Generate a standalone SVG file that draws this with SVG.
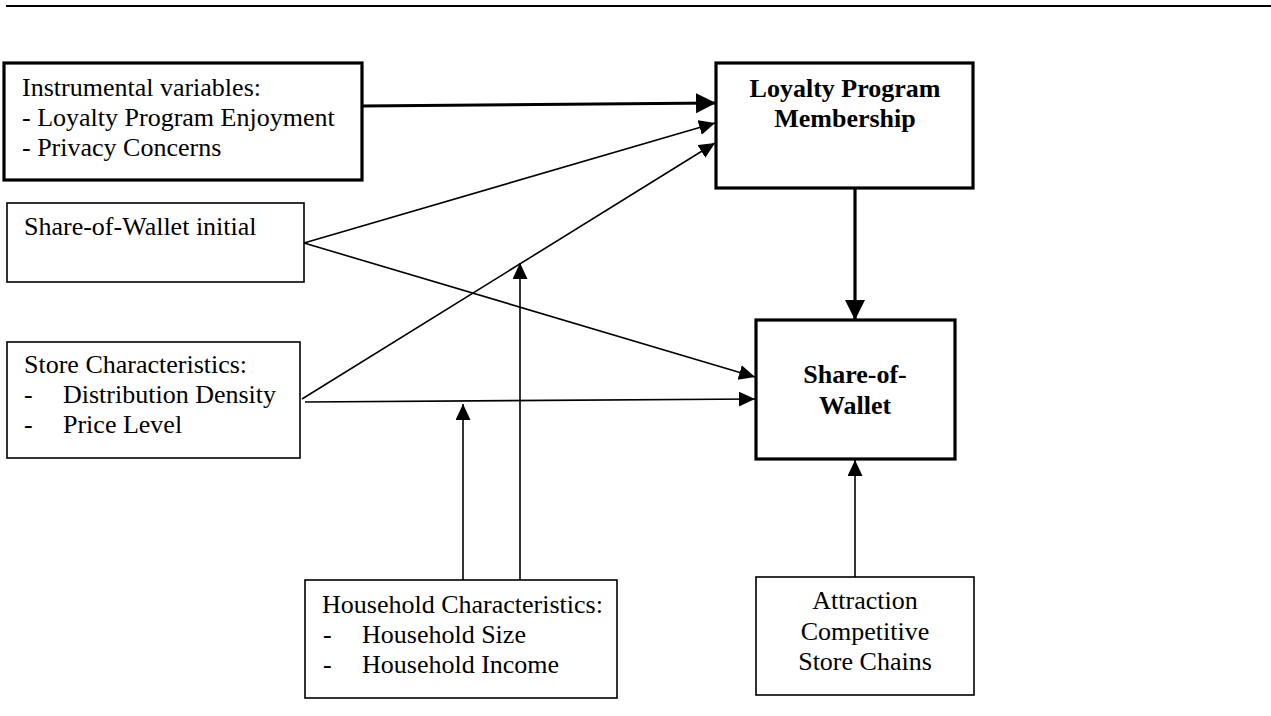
<svg xmlns="http://www.w3.org/2000/svg" width="1271" height="716" viewBox="0 0 1271 716">
  <style>
    .box { fill: #ffffff; stroke: #000000; stroke-width: 1.6; }
    .box-strong { fill: #ffffff; stroke: #000000; stroke-width: 3.2; }
    .label { font-family: "Liberation Serif", "Times New Roman", serif; font-size: 26px; fill: #000000; }
    .title { font-family: "Liberation Serif", "Times New Roman", serif; font-size: 26px; font-weight: bold; fill: #000000; text-anchor: middle; }
    .center { text-anchor: middle; }
    .link { fill: none; stroke: #000000; stroke-width: 1.6; marker-end: url(#arrow); }
    .link-strong { fill: none; stroke: #000000; stroke-width: 3.2; marker-end: url(#arrow-strong); }
  </style>
  <defs>
    <marker id="arrow" markerUnits="userSpaceOnUse" markerWidth="17" markerHeight="16" refX="16" refY="7.5" orient="auto">
      <path d="M0,0 L16,7.5 L0,15 Z" fill="#000000"/>
    </marker>
    <marker id="arrow-strong" markerUnits="userSpaceOnUse" markerWidth="21" markerHeight="21" refX="20" refY="10" orient="auto">
      <path d="M0,0 L20,10 L0,20 Z" fill="#000000"/>
    </marker>
  </defs>

  <rect width="1271" height="716" fill="#ffffff"/>

  <!-- header rule -->
  <line x1="6" y1="6" x2="1271" y2="6" stroke="#000000" stroke-width="2"/>

  <!-- connectors -->
  <g id="connectors">
    <line class="link-strong" x1="362" y1="106" x2="716" y2="103"/>
    <line class="link" x1="304" y1="243" x2="715" y2="123"/>
    <line class="link" x1="304" y1="243" x2="755" y2="377"/>
    <line class="link" x1="302" y1="399" x2="715" y2="143"/>
    <line class="link" x1="305" y1="402" x2="755" y2="399"/>
    <line class="link" x1="520" y1="580" x2="520" y2="263"/>
    <line class="link" x1="463" y1="580" x2="463" y2="404"/>
    <line class="link" x1="855" y1="577" x2="855" y2="460"/>
    <line class="link-strong" x1="855" y1="183" x2="855" y2="320"/>
  </g>

  <g id="instrumental-variables">
    <rect class="box-strong" x="4" y="63" width="358" height="117"/>
    <text class="label" x="22" y="96">Instrumental variables:</text>
    <text class="label" x="22" y="126">- Loyalty Program Enjoyment</text>
    <text class="label" x="22" y="156">- Privacy Concerns</text>
  </g>

  <g id="loyalty-program-membership">
    <rect class="box-strong" x="716" y="63" width="257" height="125"/>
    <text class="title" x="845" y="97">Loyalty Program</text>
    <text class="title" x="845" y="127">Membership</text>
  </g>

  <g id="share-of-wallet-initial">
    <rect class="box" x="7" y="203" width="297" height="79"/>
    <text class="label" x="24" y="235">Share-of-Wallet initial</text>
  </g>

  <g id="store-characteristics">
    <rect class="box" x="7" y="342" width="293" height="116"/>
    <text class="label" x="24" y="373">Store Characteristics:</text>
    <text class="label" x="24" y="403">-</text>
    <text class="label" x="63" y="403">Distribution Density</text>
    <text class="label" x="24" y="433">-</text>
    <text class="label" x="63" y="433">Price Level</text>
  </g>

  <g id="share-of-wallet">
    <rect class="box-strong" x="756" y="320" width="199" height="139"/>
    <text class="title" x="855" y="383">Share-of-</text>
    <text class="title" x="855" y="414">Wallet</text>
  </g>

  <g id="household-characteristics">
    <rect class="box" x="305" y="580" width="312" height="118"/>
    <text class="label" x="322" y="613">Household Characteristics:</text>
    <text class="label" x="323" y="643">-</text>
    <text class="label" x="362" y="643">Household Size</text>
    <text class="label" x="323" y="673">-</text>
    <text class="label" x="362" y="673">Household Income</text>
  </g>

  <g id="attraction-competitive-store-chains">
    <rect class="box" x="756" y="577" width="218" height="118"/>
    <text class="label center" x="865" y="609">Attraction</text>
    <text class="label center" x="865" y="640">Competitive</text>
    <text class="label center" x="865" y="670">Store Chains</text>
  </g>
</svg>
